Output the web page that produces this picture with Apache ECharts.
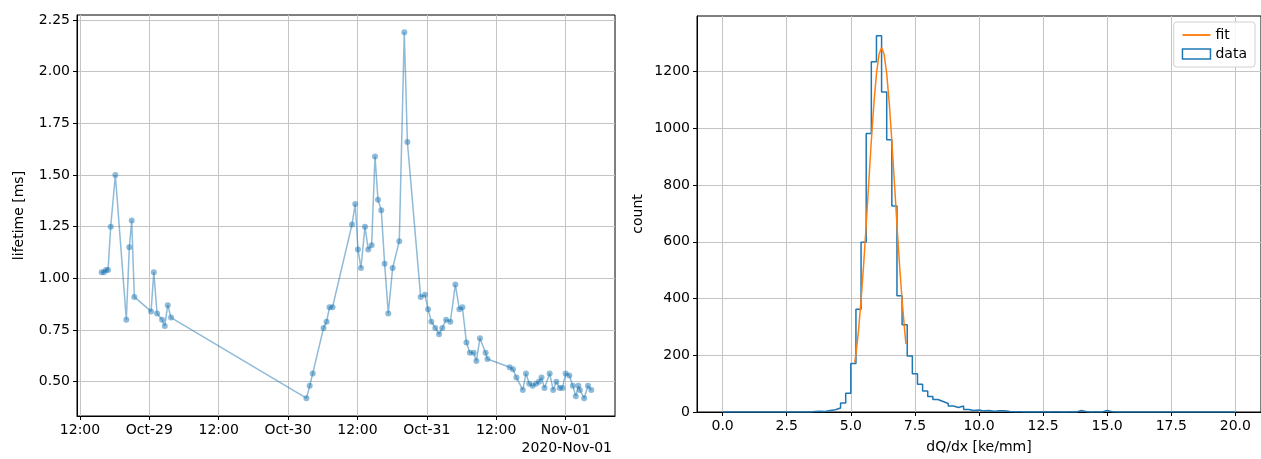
<!DOCTYPE html>
<html><head><meta charset="utf-8">
<script src="https://cdn.jsdelivr.net/npm/echarts@6/dist/echarts.min.js"></script>
<style>html,body{margin:0;padding:0;background:#fff}#c{width:1261px;height:459px}</style>
</head><body><div id="c"></div><script>
// ---- left panel: lifetime vs time ----
const times = [
 '2020-10-28T15:45Z','2020-10-28T16:09Z','2020-10-28T16:30Z','2020-10-28T16:51Z','2020-10-28T17:19Z','2020-10-28T18:07Z',
 '2020-10-28T20:01Z','2020-10-28T20:32Z','2020-10-28T20:57Z','2020-10-28T21:24Z','2020-10-29T00:18Z','2020-10-29T00:46Z',
 '2020-10-29T01:20Z','2020-10-29T02:12Z','2020-10-29T02:40Z','2020-10-29T03:11Z','2020-10-29T03:45Z','2020-10-30T03:10Z',
 '2020-10-30T03:44Z','2020-10-30T04:16Z','2020-10-30T06:08Z','2020-10-30T06:39Z','2020-10-30T07:10Z','2020-10-30T07:41Z',
 '2020-10-30T11:03Z','2020-10-30T11:37Z','2020-10-30T12:05Z','2020-10-30T12:36Z','2020-10-30T13:18Z','2020-10-30T13:52Z',
 '2020-10-30T14:27Z','2020-10-30T15:02Z','2020-10-30T15:33Z','2020-10-30T16:07Z','2020-10-30T16:42Z','2020-10-30T17:20Z',
 '2020-10-30T18:05Z','2020-10-30T19:14Z','2020-10-30T20:06Z','2020-10-30T20:38Z','2020-10-30T22:56Z','2020-10-30T23:41Z',
 '2020-10-31T00:13Z','2020-10-31T00:47Z','2020-10-31T01:28Z','2020-10-31T02:07Z','2020-10-31T02:41Z','2020-10-31T03:20Z',
 '2020-10-31T04:04Z','2020-10-31T04:56Z','2020-10-31T05:38Z','2020-10-31T06:09Z','2020-10-31T06:51Z','2020-10-31T07:27Z',
 '2020-10-31T08:06Z','2020-10-31T08:34Z','2020-10-31T09:11Z','2020-10-31T10:10Z','2020-10-31T10:29Z','2020-10-31T14:20Z',
 '2020-10-31T14:54Z','2020-10-31T15:30Z','2020-10-31T16:36Z','2020-10-31T17:09Z','2020-10-31T17:43Z','2020-10-31T18:18Z',
 '2020-10-31T18:53Z','2020-10-31T19:24Z','2020-10-31T19:50Z','2020-10-31T20:21Z','2020-10-31T21:15Z','2020-10-31T21:51Z',
 '2020-10-31T22:24Z','2020-10-31T22:59Z','2020-10-31T23:28Z','2020-11-01T00:01Z','2020-11-01T00:39Z','2020-11-01T01:15Z',
 '2020-11-01T01:46Z','2020-11-01T02:12Z','2020-11-01T02:28Z','2020-11-01T03:13Z','2020-11-01T03:53Z','2020-11-01T04:27Z'
];
const lifetimes = [
 1.03,1.03,1.04,1.04,1.25,1.50,
 0.80,1.15,1.28,0.91,0.84,1.03,
 0.83,0.80,0.77,0.87,0.81,0.42,
 0.48,0.54,0.76,0.79,0.86,0.86,
 1.26,1.36,1.14,1.05,1.25,1.14,
 1.16,1.59,1.38,1.33,1.07,0.83,
 1.05,1.18,2.19,1.66,0.91,0.92,
 0.85,0.79,0.76,0.73,0.76,0.80,
 0.79,0.97,0.85,0.86,0.69,0.64,
 0.64,0.60,0.71,0.64,0.61,0.57,
 0.56,0.52,0.46,0.54,0.49,0.48,
 0.49,0.50,0.52,0.47,0.54,0.46,
 0.50,0.47,0.47,0.54,0.53,0.48,
 0.43,0.48,0.46,0.42,0.48,0.46
];
const timeTicks = ['2020-10-28T12:00Z','2020-10-29T00:00Z','2020-10-29T12:00Z','2020-10-30T00:00Z',
                   '2020-10-30T12:00Z','2020-10-31T00:00Z','2020-10-31T12:00Z','2020-11-01T00:00Z'];
const timeTickLabels = ['12:00','Oct-29','12:00','Oct-30','12:00','Oct-31','12:00','Nov-01'];
const lifetimeTicks = [0.50,0.75,1.00,1.25,1.50,1.75,2.00,2.25];
const offsetLabel = '2020-Nov-01';

// ---- right panel: dQ/dx histogram ----
const binStart = 0;
const binWidth = 0.2;
const counts = [
 0,0,0,0,0,0,0,0,0,0,0,0,0,0,0,0,0,
 2,3,2,5,8,14,32,66,171,362,598,982,1235,1326,1128,960,726,410,308,197,135,98,74,55,44,37,30,21,16,21,9,5,7,
 4,5,3,4,4,2,1,1,0,1,0,1,0,0,1,0,0,1,0,5,1,0,1,0,5,1,
 0,0,0,0,0,0,0,0,0,0,0,0,0,0,0,0,0,0,0,0,0,0,0,0
];
const fitX = [5.15,5.2,5.3,5.4,5.5,5.6,5.7,5.8,5.9,6.0,6.1,6.2,6.3,6.4,6.5,6.6,6.7,6.8,6.9,7.0,7.1,7.15];
const fitY = [175,202,287,394,519,660,809,956,1088,1193,1261,1285,1261,1193,1088,956,809,660,519,394,287,240];
const dqdxTicks = [0,2.5,5,7.5,10,12.5,15,17.5,20];
const countTicks = [0,200,400,600,800,1000,1200];

const FONT = 'DejaVu Sans';
const C0 = '#1f77b4', C1 = '#ff7f0e';

const lifeData = times.map((t, i) => [Date.parse(t), lifetimes[i]]);
const tickMs = timeTicks.map(t => Date.parse(t));
const histData = counts.map((c, i) => [binStart + i * binWidth, c]);
histData.push([binStart + counts.length * binWidth, 0]);
const fitData = fitX.map((x, i) => [x, fitY[i]]);

function axisBase() {
  return {
    axisLine: {show: true, onZero: false, lineStyle: {color: '#000', width: 1}},
    axisTick: {show: true, length: 4, lineStyle: {color: '#000', width: 1}},
    splitLine: {show: true, lineStyle: {color: '#c4c4c4', width: 1}},
    axisLabel: {color: '#000', fontSize: 14, fontFamily: FONT, margin: 7},
    nameTextStyle: {color: '#000', fontSize: 14, fontFamily: FONT}
  };
}
function ticks(vals) {
  return {show: true, length: 4, customValues: vals, lineStyle: {color: '#000', width: 1}};
}
function labels(vals, fmt) {
  return {color: '#000', fontSize: 14, fontFamily: FONT, margin: 7, customValues: vals, formatter: fmt};
}

const chart = echarts.init(document.getElementById('c'), null, {renderer: 'canvas'});
chart.setOption({
  animation: false,
  textStyle: {fontFamily: FONT},
  grid: [
    {left: 77, top: 15, width: 538, height: 401, show: true, borderColor: '#000', borderWidth: 1, backgroundColor: 'transparent'},
    {left: 697, top: 16, width: 564, height: 400, show: true, borderColor: '#000', borderWidth: 1, backgroundColor: 'transparent'}
  ],
  xAxis: [
    Object.assign(axisBase(), {
      type: 'value', gridIndex: 0,
      min: Date.parse('2020-10-28T11:29Z'), max: Date.parse('2020-11-01T08:33Z'),
      axisTick: ticks(tickMs),
      axisLabel: labels(tickMs, v => { const k = tickMs.indexOf(v); return k >= 0 ? timeTickLabels[k] : ''; })
    }),
    Object.assign(axisBase(), {
      type: 'value', gridIndex: 1, min: -1, max: 21,
      axisTick: ticks(dqdxTicks),
      axisLabel: labels(dqdxTicks, v => v.toFixed(1)),
      name: 'dQ/dx [ke/mm]', nameLocation: 'middle', nameGap: 28
    })
  ],
  yAxis: [
    Object.assign(axisBase(), {
      type: 'value', gridIndex: 0, min: 0.334, max: 2.274,
      axisTick: ticks(lifetimeTicks),
      axisLabel: labels(lifetimeTicks, v => v.toFixed(2)),
      name: 'lifetime [ms]', nameLocation: 'middle', nameGap: 51, nameRotate: 90
    }),
    Object.assign(axisBase(), {
      type: 'value', gridIndex: 1, min: 0, max: 1396,
      axisTick: ticks(countTicks),
      axisLabel: labels(countTicks, v => String(Math.round(v))),
      name: 'count', nameLocation: 'middle', nameGap: 52, nameRotate: 90
    })
  ],
  legend: {
    right: 6, top: 22, orient: 'vertical',
    backgroundColor: 'rgba(255,255,255,0.85)', borderColor: '#d0d0d0', borderWidth: 1, borderRadius: 3,
    padding: [6, 8, 6, 8], itemGap: 5, itemWidth: 28, itemHeight: 10,
    textStyle: {fontSize: 14, fontFamily: FONT, color: '#000'},
    selectedMode: false,
    data: [
      {name: 'fit', icon: 'path://M0,0H30V2H0Z', itemStyle: {color: C1}},
      {name: 'data', icon: 'rect', itemStyle: {color: '#fff', borderColor: C0, borderWidth: 1.5}}
    ]
  },
  graphic: [
    {type: 'text', right: 649, top: 441, style: {text: offsetLabel, fontSize: 14, fontFamily: FONT, fill: '#000'}}
  ],
  series: [
    {
      type: 'line', xAxisIndex: 0, yAxisIndex: 0, data: lifeData,
      symbol: 'circle', symbolSize: 6, showSymbol: true,
      lineStyle: {color: C0, width: 1.5, opacity: 0.5},
      itemStyle: {color: C0, opacity: 0.5}
    },
    {
      name: 'data', type: 'line', xAxisIndex: 1, yAxisIndex: 1, data: histData, step: 'end',
      symbol: 'none', lineStyle: {color: C0, width: 1.5}, itemStyle: {color: C0}
    },
    {
      name: 'fit', type: 'line', xAxisIndex: 1, yAxisIndex: 1, data: fitData,
      symbol: 'none', lineStyle: {color: C1, width: 1.5}, itemStyle: {color: C1}
    }
  ]
});
</script></body></html>
